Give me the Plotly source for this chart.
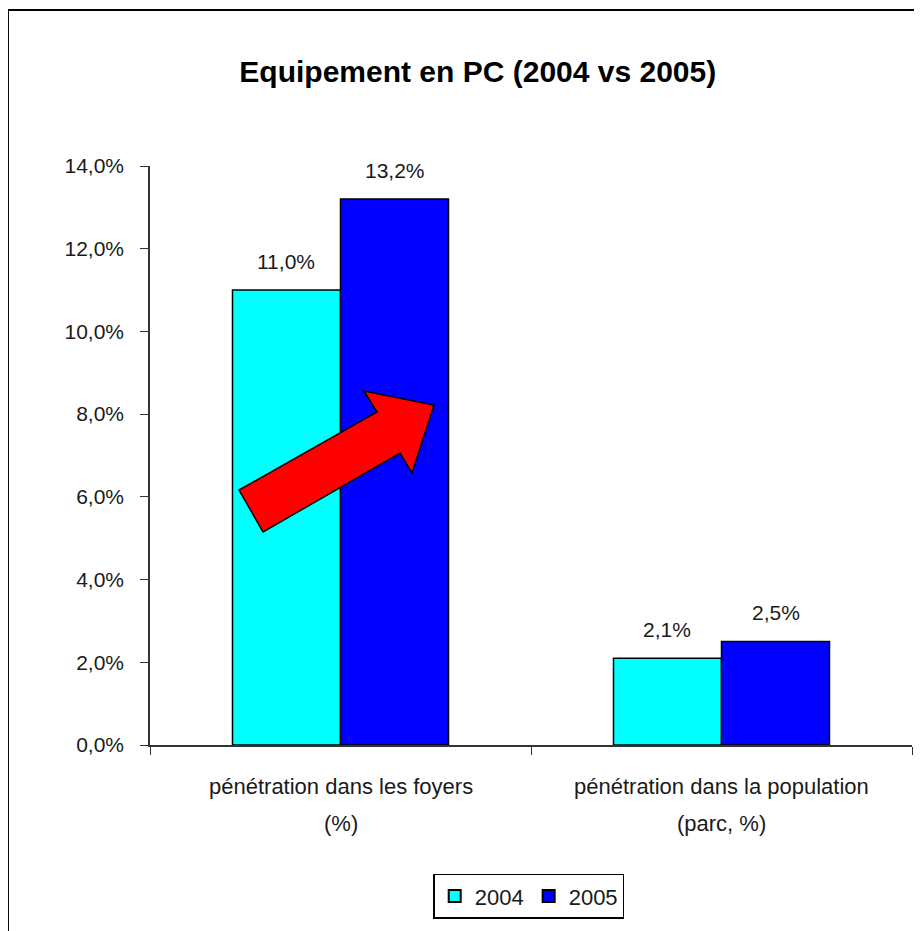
import plotly.graph_objects as go

categories = ["pénétration dans les foyers\n(%)", "pénétration dans la population\n(parc, %)"]
series_names = ["2004", "2005"]
values_2004 = [11.0, 2.1]
values_2005 = [13.2, 2.5]
y_ticks = [0, 2, 4, 6, 8, 10, 12, 14]
y_ticktext = [f"{v:.1f}".replace(".", ",") + "%" for v in y_ticks]

colors = ["#00FFFF", "#0000FF"]
FONT = "Liberation Sans, Arial, sans-serif"
TXT = "#1a1a1a"

bar_w = 0.2835
offsets = [-bar_w, 0.0]
series = [values_2004, values_2005]

cat_keys = [c.split("\n")[0] for c in categories]

fig = go.Figure()
for name, vals, col, off in zip(series_names, series, colors, offsets):
    fig.add_trace(go.Bar(
        name=name, x=cat_keys, y=vals, width=bar_w, offset=off,
        marker=dict(color=col, line=dict(color="black", width=1.5)),
    ))

annotations = []
for vals, off in zip(series, offsets):
    for i, v in enumerate(vals):
        annotations.append(dict(
            x=i + off + bar_w / 2, y=v, xref="x", yref="y",
            text=f"{v:.1f}".replace(".", ",") + "%", showarrow=False,
            yanchor="middle", yshift=29,
            font=dict(family=FONT, size=21, color=TXT)))
for i, c in enumerate(categories):
    for j, line in enumerate(c.split("\n")):
        annotations.append(dict(
            x=i, y=0, xref="x", yref="paper", text=line, showarrow=False,
            yanchor="middle", yshift=-41 - 37 * j,
            font=dict(family=FONT, size=22, color=TXT)))

# red arrow decoration (paper coordinates)
arrow = [(0.1168, 0.4404), (0.2979, 0.5751), (0.2808, 0.6114), (0.3727, 0.5872),
         (0.3438, 0.4698), (0.3281, 0.5043), (0.1483, 0.3679)]
path = "M " + " L ".join(f"{x},{y}" for x, y in arrow) + " Z"

shapes = [
    dict(type="path", xref="paper", yref="paper", path=path,
         fillcolor="#FF0000", line=dict(color="black", width=1.5)),
    dict(type="rect", xref="paper", yref="paper", x0=-0.1864, x1=1.03, y0=-0.34, y1=1.2694,
         line=dict(color="black", width=2), fillcolor="rgba(0,0,0,0)", layer="above"),
]

fig.update_layout(
    width=914, height=923,
    margin=dict(l=142, r=10, t=158, b=186),
    paper_bgcolor="white", plot_bgcolor="white",
    separators=", ",
    title=dict(text="<b>Equipement en PC (2004 vs 2005)</b>", xref="container", yref="container",
               x=0.514, y=0.9307, xanchor="center", yanchor="middle",
               font=dict(family=FONT, size=30, color="black")),
    barmode="group",
    showlegend=True,
    legend=dict(orientation="h", x=0.497, y=-0.261, xanchor="center", yanchor="middle",
                xref="paper", yref="paper",
                bordercolor="black", borderwidth=1.5, bgcolor="white",
                font=dict(family=FONT, size=22, color=TXT),
                itemsizing="constant"),
    xaxis=dict(type="category", showline=True, linecolor="#333", linewidth=1.5,
               ticks="outside", tickson="boundaries", ticklen=8, tickcolor="#333",
               showticklabels=False, showgrid=False, zeroline=False,
               range=[-0.5, 1.5]),
    yaxis=dict(range=[0, 14], tickvals=y_ticks, ticktext=y_ticktext,
               showline=True, linecolor="#333", linewidth=1.5,
               ticks="outside", ticklen=8, tickcolor="#333", ticklabelstandoff=12,
               showgrid=False, zeroline=False,
               tickfont=dict(family=FONT, size=21, color=TXT)),
    annotations=annotations,
    shapes=shapes,
)

fig.write_html("out.html")
